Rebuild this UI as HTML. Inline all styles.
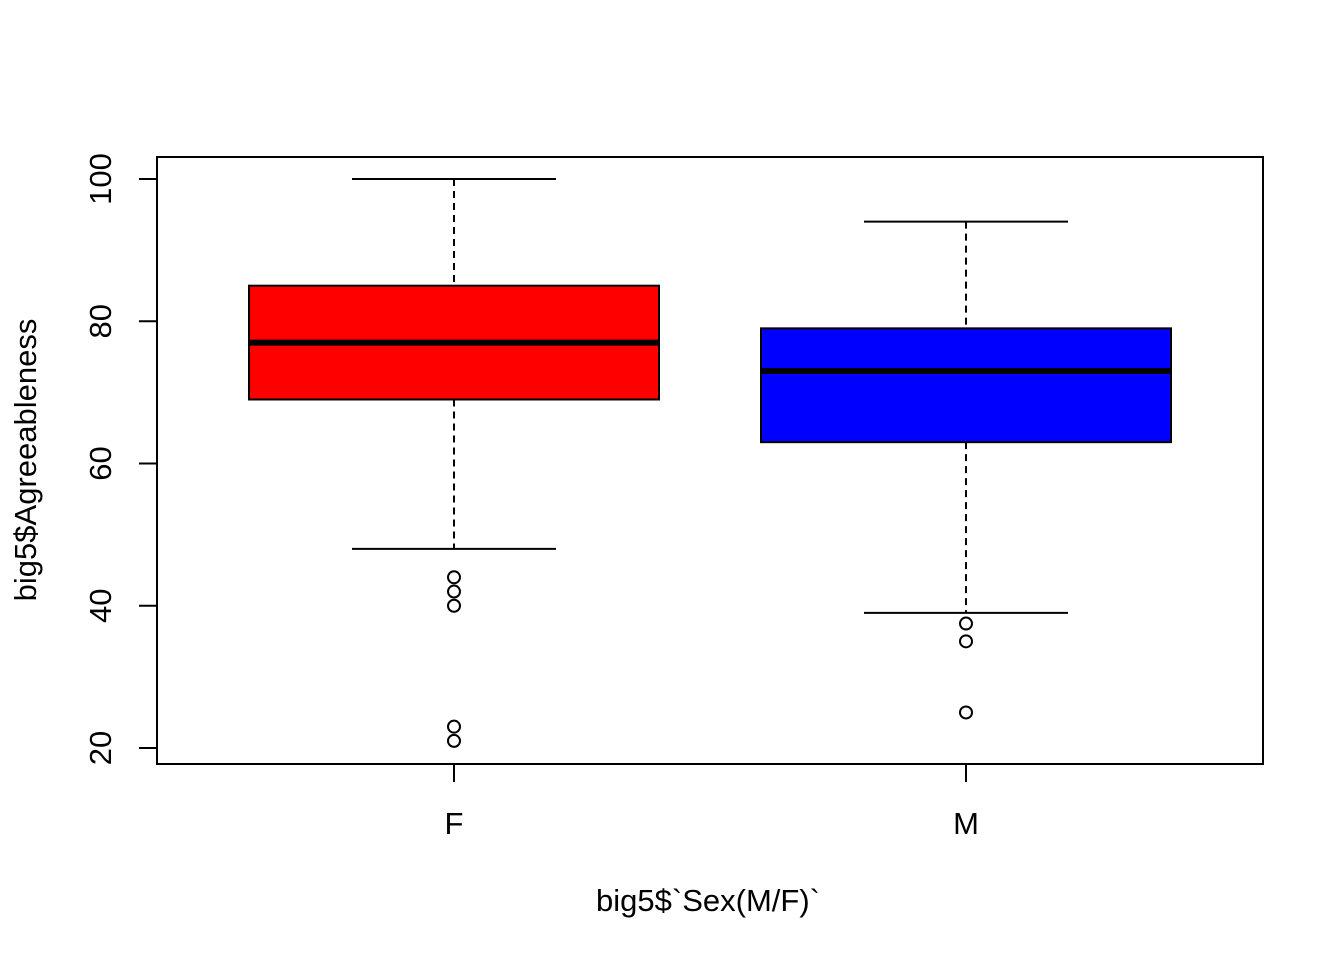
<!DOCTYPE html>
<html><head><meta charset="utf-8"><style>body{margin:0;background:#fff}svg{display:block}text{font-family:"Liberation Sans",Arial,sans-serif;font-size:31px;fill:#000}</style></head>
<body>
<svg id="chart" width="1344" height="960">
<rect x="157" y="157" width="1106" height="607" fill="none" stroke="#000" stroke-width="2"/>
<g id="marks"></g>
<g id="axes"></g>
<text x="708" y="911" text-anchor="middle">big5$`Sex(M/F)`</text>
<text transform="translate(36,460) rotate(-90)" text-anchor="middle">big5$Agreeableness</text>
</svg>
<script>
const categories=["F","M"];
const colors=["#ff0000","#0000ff"];
const whiskerLow=[48,39];
const q1=[69,63];
const median=[77,73];
const q3=[85,79];
const whiskerHigh=[100,94];
const outliers=[[44,42,40,23,21],[37.5,35,25]];
const yTicks=[20,40,60,80,100];
const NS="http://www.w3.org/2000/svg";
const y=v=>748-(v-20)*(748-179)/80;
const x=i=>454+i*512;
const halfW=205, capW=102;
function mk(tag,attrs,parent){const e=document.createElementNS(NS,tag);for(const k in attrs)e.setAttribute(k,attrs[k]);parent.appendChild(e);return e;}
const marks=document.getElementById('marks'), axes=document.getElementById('axes');
categories.forEach((c,i)=>{
  const cx=x(i);
  let e=mk('line',{x1:cx,x2:cx,y1:y(whiskerHigh[i]),y2:y(q3[i]),stroke:'#000','stroke-width':2,'stroke-dasharray':'7,5'},marks);
  
  
  e=mk('line',{x1:cx,x2:cx,y1:y(q1[i]),y2:y(whiskerLow[i]),stroke:'#000','stroke-width':2,'stroke-dasharray':'7,5'},marks);
  
  
  e=mk('line',{x1:cx-capW,x2:cx+capW,y1:y(whiskerHigh[i]),y2:y(whiskerHigh[i]),stroke:'#000','stroke-width':2},marks);
  
  
  e=mk('line',{x1:cx-capW,x2:cx+capW,y1:y(whiskerLow[i]),y2:y(whiskerLow[i]),stroke:'#000','stroke-width':2},marks);
  
  
  e=mk('rect',{x:cx-halfW,y:y(q3[i]),width:2*halfW,height:y(q1[i])-y(q3[i]),fill:colors[i],stroke:'#000','stroke-width':2},marks);
  
  
  e=mk('line',{x1:cx-halfW,x2:cx+halfW,y1:y(median[i]),y2:y(median[i]),stroke:'#000','stroke-width':6},marks);
  
  
  outliers[i].forEach(v=>{
    const o=mk('circle',{cx:cx,cy:y(v),r:6,fill:'none',stroke:'#000','stroke-width':2},marks);
    
    
  });
  e=mk('line',{x1:cx,x2:cx,y1:764,y2:782,stroke:'#000','stroke-width':2},axes);
  
  
  e=mk('text',{x:cx,y:834,'text-anchor':'middle'},axes);e.textContent=c;
  
  
});
yTicks.forEach(v=>{
  let e=mk('line',{x1:139,x2:157,y1:y(v),y2:y(v),stroke:'#000','stroke-width':2},axes);
  
  
  e=mk('text',{transform:`translate(111,${y(v)}) rotate(-90)`,'text-anchor':'middle'},axes);e.textContent=v;
  
  
});
</script>
</body></html>
